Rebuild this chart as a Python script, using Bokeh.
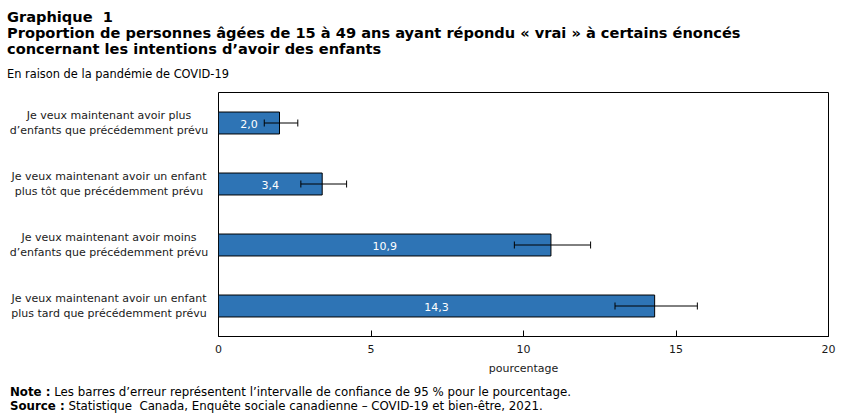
from bokeh.plotting import figure
from bokeh.layouts import column, row
from bokeh.models import Range1d, ColumnDataSource, Whisker, FixedTicker, TeeHead, Div
from bokeh.core.properties import value
from bokeh.embed import file_html
from bokeh.resources import INLINE

categories = [
    "Je veux maintenant avoir plus\nd\u2019enfants que précédemment prévu",
    "Je veux maintenant avoir un enfant\nplus tôt que précédemment prévu",
    "Je veux maintenant avoir moins\nd\u2019enfants que précédemment prévu",
    "Je veux maintenant avoir un enfant\nplus tard que précédemment prévu",
]
values = [2.0, 3.4, 10.9, 14.3]
ci_low = [1.5, 2.7, 9.7, 13.0]
ci_high = [2.6, 4.2, 12.2, 15.7]
value_labels = ["2,0", "3,4", "10,9", "14,3"]
x_ticks = [0, 5, 10, 15, 20]

title_lines = [
    "Graphique&nbsp; 1",
    "Proportion de personnes âgées de 15 à 49 ans ayant répondu « vrai » à certains énoncés",
    "concernant les intentions d\u2019avoir des enfants",
]
subtitle = "En raison de la pandémie de COVID-19"
note = ("Note :", "Les barres d\u2019erreur représentent l\u2019intervalle de confiance de 95 % pour le pourcentage.")
source = ("Source :", "Statistique&nbsp; Canada, Enquête sociale canadienne \u2013 COVID-19 et bien-être, 2021.")

W = 852
FONT = "DejaVu Sans"
TOP_H = 84
FIG_H = 296
NOTE_H = 417 - TOP_H - FIG_H
LEFT_W = 212          # width of the category-label column
PAD_L = 6             # room for the first tick label of the bar chart
BORDER_T, BORDER_B = 8, 44

# heading block
head_html = f"""
<div style="position:relative;width:{W}px;height:{TOP_H}px;font-family:'{FONT}';color:#000;">
  <div style="position:absolute;left:7px;top:9px;font-size:14.6px;font-weight:bold;line-height:16px;white-space:nowrap;">
    {'<br>'.join(title_lines)}
  </div>
  <div style="position:absolute;left:7px;top:67px;font-size:11.4px;line-height:14px;white-space:nowrap;">{subtitle}</div>
</div>"""
head = Div(text=head_html, width=W, height=TOP_H, margin=(0, 0, 0, 0))

# footnotes block
foot_html = f"""
<div style="position:relative;width:{W}px;height:{NOTE_H}px;font-family:'{FONT}';color:#000;">
  <div style="position:absolute;left:10px;top:5px;font-size:11.8px;line-height:14px;white-space:nowrap;">
    <b>{note[0]}</b> {note[1]}<br><b>{source[0]}</b> {source[1]}
  </div>
</div>"""
foot = Div(text=foot_html, width=W, height=NOTE_H, margin=(0, 0, 0, 0))

n = len(categories)
ypos = [n - i - 0.5 for i in range(n)]
y_range = Range1d(0, n)

src = ColumnDataSource(dict(y=ypos, v=values, lo=ci_low, hi=ci_high,
                            mid=[v / 2 for v in values], lab=value_labels,
                            cat=categories, cx=[108.5] * n))

# left column: centred category labels sharing the bars' y range
left = figure(width=LEFT_W, height=FIG_H, output_backend="svg", toolbar_location=None,
              x_range=Range1d(0, LEFT_W), y_range=y_range,
              min_border_left=0, min_border_right=0,
              min_border_top=BORDER_T, min_border_bottom=BORDER_B, margin=(0, 0, 0, 0))
left.axis.visible = False
left.grid.visible = False
left.outline_line_color = None
left.background_fill_color = "white"
left.border_fill_color = "white"
left.text(x="cx", y="y", text="cat", source=src, text_color="#1a1a1a",
          text_align="center", text_baseline="middle", y_offset=0,
          text_font=value(FONT), text_font_size="11px", text_line_height=1.2)

# bar chart
p = figure(width=W - LEFT_W, height=FIG_H, output_backend="svg", toolbar_location=None,
           x_range=Range1d(0, 20), y_range=y_range,
           min_border_left=PAD_L, min_border_right=24,
           min_border_top=BORDER_T, min_border_bottom=BORDER_B, margin=(0, 0, 0, 0))
p.background_fill_color = "white"
p.border_fill_color = "white"
p.outline_line_color = "black"
p.outline_line_width = 1
p.grid.visible = False
p.yaxis.visible = False

xa = p.xaxis[0]
xa.ticker = FixedTicker(ticks=x_ticks)
xa.axis_line_color = "black"
xa.major_tick_in = 6
xa.major_tick_out = 0
xa.minor_tick_line_color = None
xa.major_tick_line_color = "black"
xa.major_label_text_font = FONT
xa.major_label_text_font_size = "11px"
xa.major_label_text_color = "#1a1a1a"
xa.major_label_standoff = 8
xa.axis_label = "pourcentage"
xa.axis_label_text_font = FONT
xa.axis_label_text_font_size = "11px"
xa.axis_label_text_font_style = "normal"
xa.axis_label_text_color = "#1a1a1a"
xa.axis_label_standoff = 6

p.hbar(y="y", right="v", left=0, height=0.36, source=src,
       fill_color="#2e74b5", line_color="black", line_width=1)
p.text(x="mid", y="y", text="lab", source=src, text_color="white",
       text_align="center", text_baseline="middle", y_offset=1,
       text_font=value(FONT), text_font_size="11px")
w = Whisker(base="y", lower="lo", upper="hi", dimension="width", source=src,
            line_color="black", line_width=1, level="annotation",
            lower_head=TeeHead(size=7, line_color="black", line_width=1),
            upper_head=TeeHead(size=7, line_color="black", line_width=1))
p.add_layout(w)

layout = column(head, row(left, p, spacing=0, margin=(0, 0, 0, 0)), foot,
                spacing=0, margin=(0, 0, 0, 0))
open("out.html", "w").write(file_html(layout, INLINE))
